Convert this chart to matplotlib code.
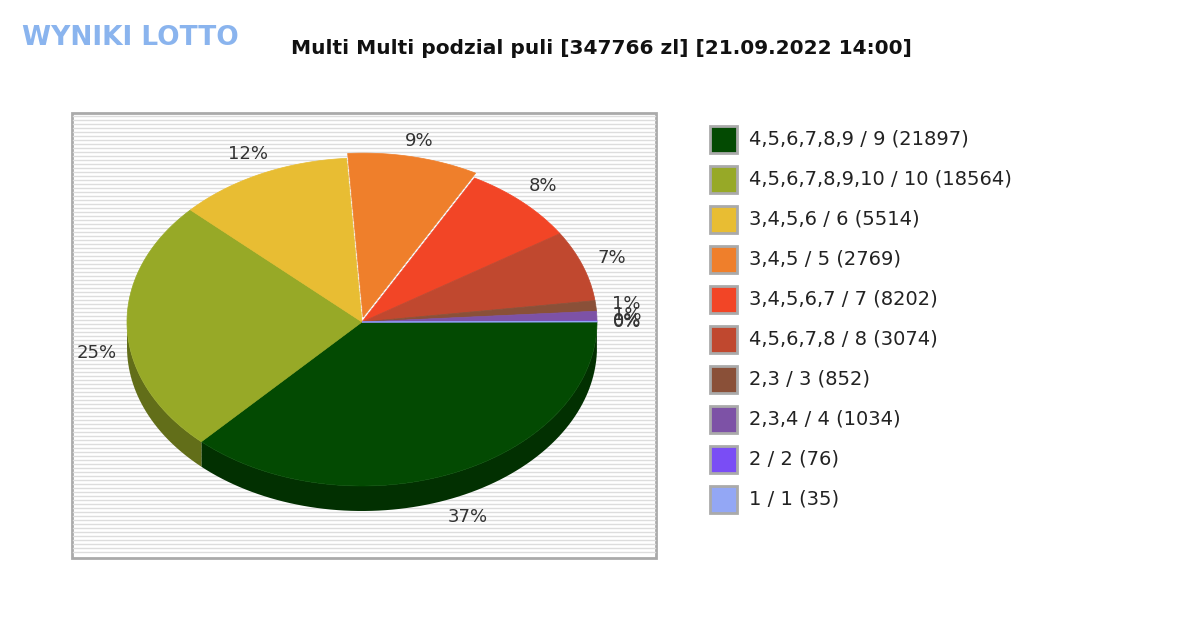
import numpy as np
import matplotlib
matplotlib.use("Agg")
import matplotlib.pyplot as plt
from matplotlib.patches import Polygon, Rectangle

labels = ["4,5,6,7,8,9 / 9 (21897)", "4,5,6,7,8,9,10 / 10 (18564)", "3,4,5,6 / 6 (5514)",
          "3,4,5 / 5 (2769)", "3,4,5,6,7 / 7 (8202)", "4,5,6,7,8 / 8 (3074)",
          "2,3 / 3 (852)", "2,3,4 / 4 (1034)", "2 / 2 (76)", "1 / 1 (35)"]
values = [128700, 87000, 41700, 31300, 27800, 24300, 3600, 3300, 240, 110]
pct_labels = ["37%", "25%", "12%", "9%", "8%", "7%", "1%", "1%", "0%", "0%"]
colors = ["#034a02", "#97a927", "#e8bd33", "#ef7f2b", "#f24526", "#c0482f",
          "#8a5038", "#7d52a6", "#7a4df5", "#93a7f5"]
explode = [0, 0, 0, 5, 0, 0, 0, 0, 0, 0]

fig = plt.figure(figsize=(12, 6.3), dpi=100)
ax = fig.add_axes([0, 0, 1, 1])
ax.set_xlim(0, 1200); ax.set_ylim(630, 0); ax.axis("off")

ax.add_patch(Rectangle((72, 113), 584, 445, facecolor="white", edgecolor="#aaaaaa", lw=2, zorder=0))
for y in np.arange(116, 556, 4):
    ax.plot([73, 655], [y, y], color="#dddddd", lw=1, zorder=0.5)

cx, cy, rx, ry, depth = 362, 322, 235, 164, 25
v = np.array(values, float); fr = v / v.sum()
starts = np.concatenate([[0], np.cumsum(fr)[:-1]]) * 2 * np.pi

def darker(c, f=0.65):
    r, g, b = matplotlib.colors.to_rgb(c); return (r*f, g*f, b*f)

wedges = []
for i, (s, f) in enumerate(zip(starts, fr)):
    e = s + f * 2 * np.pi
    m = (s + e) / 2
    wedges.append((s, e, explode[i]*np.cos(m), explode[i]*np.sin(m)))
for i, (s, e, ox, oy) in enumerate(wedges):
    a = np.linspace(s, e, 80)
    a = a[np.sin(a) > 0]
    if len(a) > 1:
        x = cx + ox + rx*np.cos(a); y = cy + oy + ry*np.sin(a)
        pts = np.vstack([np.column_stack([x, y]), np.column_stack([x[::-1], y[::-1]+depth])])
        ax.add_patch(Polygon(pts, closed=True, facecolor=darker(colors[i]), edgecolor="none", zorder=2))
for i, (s, e, ox, oy) in enumerate(wedges):
    a = np.linspace(s, e, 120)
    x = cx + ox + rx*np.cos(a); y = cy + oy + ry*np.sin(a)
    pts = np.vstack([[cx+ox, cy+oy], np.column_stack([x, y])])
    ax.add_patch(Polygon(pts, closed=True, facecolor=colors[i], edgecolor=colors[i], lw=0.5, zorder=3))
    m = (s + e) / 2
    lx = cx + 1.13*rx*np.cos(m); ly = cy + 1.13*ry*np.sin(m)
    if np.sin(m) > 0: ly += depth
    ax.text(lx, ly, pct_labels[i], fontsize=13, color="#333333", ha="center", va="center", zorder=4)

for i, (lab, c) in enumerate(zip(labels, colors)):
    y = 139 + i*40
    ax.add_patch(Rectangle((710, y-13), 27, 27, facecolor=c, edgecolor="#aaaaaa", lw=2, zorder=3))
    ax.text(749, y, lab, fontsize=14, color="#222222", va="center", ha="left")

ax.text(601, 48, "Multi Multi podzial puli [347766 zl] [21.09.2022 14:00]", fontsize=14.5,
        fontweight="bold", ha="center", va="center", color="#111111")
ax.text(130, 38, "WYNIKI LOTTO", fontsize=19, fontweight="bold", color="#8ab4ee",
        ha="center", va="center")
fig.savefig("out.png", dpi=100)
